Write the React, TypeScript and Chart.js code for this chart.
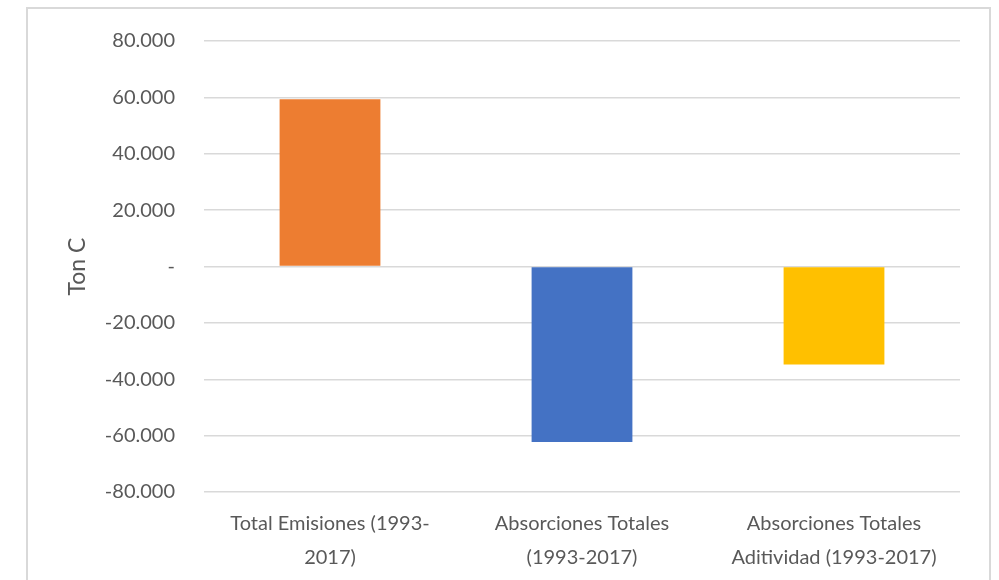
import React, { useEffect, useRef } from "react";
import { Chart, registerables } from "chart.js";

Chart.register(...registerables);

const categories: string[][] = [
  ["Total Emisiones (1993-", "2017)"],
  ["Absorciones Totales", "(1993-2017)"],
  ["Absorciones Totales", "Aditividad (1993-2017)"],
];
const values: number[] = [59300, -62300, -34800];
const barColors: string[] = ["#ED7D31", "#4472C4", "#FFC000"];
const yMin = -80000;
const yMax = 80000;
const yStep = 20000;
const yTitle = "Ton C";

function fmt(v: number): string {
  if (v === 0) return "-";
  const s = Math.abs(v).toString().replace(/\B(?=(\d{3})+(?!\d))/g, ".");
  return (v < 0 ? "-" : "") + s;
}

export default function App() {
  const ref = useRef<HTMLCanvasElement | null>(null);
  useEffect(() => {
    if (!ref.current) return;
    const font = { family: "Lato, 'Liberation Sans', sans-serif", size: 20 };
    const chart = new Chart(ref.current, {
      type: "bar",
      data: {
        labels: categories,
        datasets: [
          {
            data: values,
            backgroundColor: barColors,
            barPercentage: 0.4,
            categoryPercentage: 1,
          },
        ],
      },
      options: {
        animation: false,
        responsive: false,
        maintainAspectRatio: false,
        layout: { autoPadding: false, padding: { left: 0, right: 39, top: 37, bottom: 0 } },
        plugins: { legend: { display: false }, tooltip: { enabled: false } },
        scales: {
          x: {
            afterFit: (s: any) => {
              s.height = 88;
            },
            grid: { display: false, drawTicks: false },
            border: { display: false },
            ticks: {
              color: "#595959",
              font: { ...font, lineHeight: 1.72 },
              padding: 14,
              maxRotation: 0,
              autoSkip: false,
            },
          },
          y: {
            min: yMin,
            max: yMax,
            afterFit: (s: any) => {
              s.width = 204;
            },
            grid: { color: "#d9d9d9", lineWidth: 1.5, drawTicks: false },
            border: { display: false },
            ticks: {
              stepSize: yStep,
              color: "#595959",
              font,
              padding: 29,
              callback: (v: any) => fmt(Number(v)),
            },
            title: {
              display: true,
              text: yTitle,
              color: "#595959",
              font: { ...font, size: 23 },
              padding: { top: 64, bottom: 0 },
            },
          },
        },
      },
    });
    return () => chart.destroy();
  }, []);
  return (
    <div style={{ position: "fixed", left: 0, top: 0, width: 999, height: 580, overflow: "hidden", background: "#fff" }}>
      <div
        style={{
          position: "absolute",
          left: 26,
          top: 7,
          width: 961,
          height: 620,
          border: "2px solid #d9d9d9",
        }}
      />
      <canvas ref={ref} width={999} height={580} style={{ position: "absolute", left: 0, top: 0 }} />
    </div>
  );
}
